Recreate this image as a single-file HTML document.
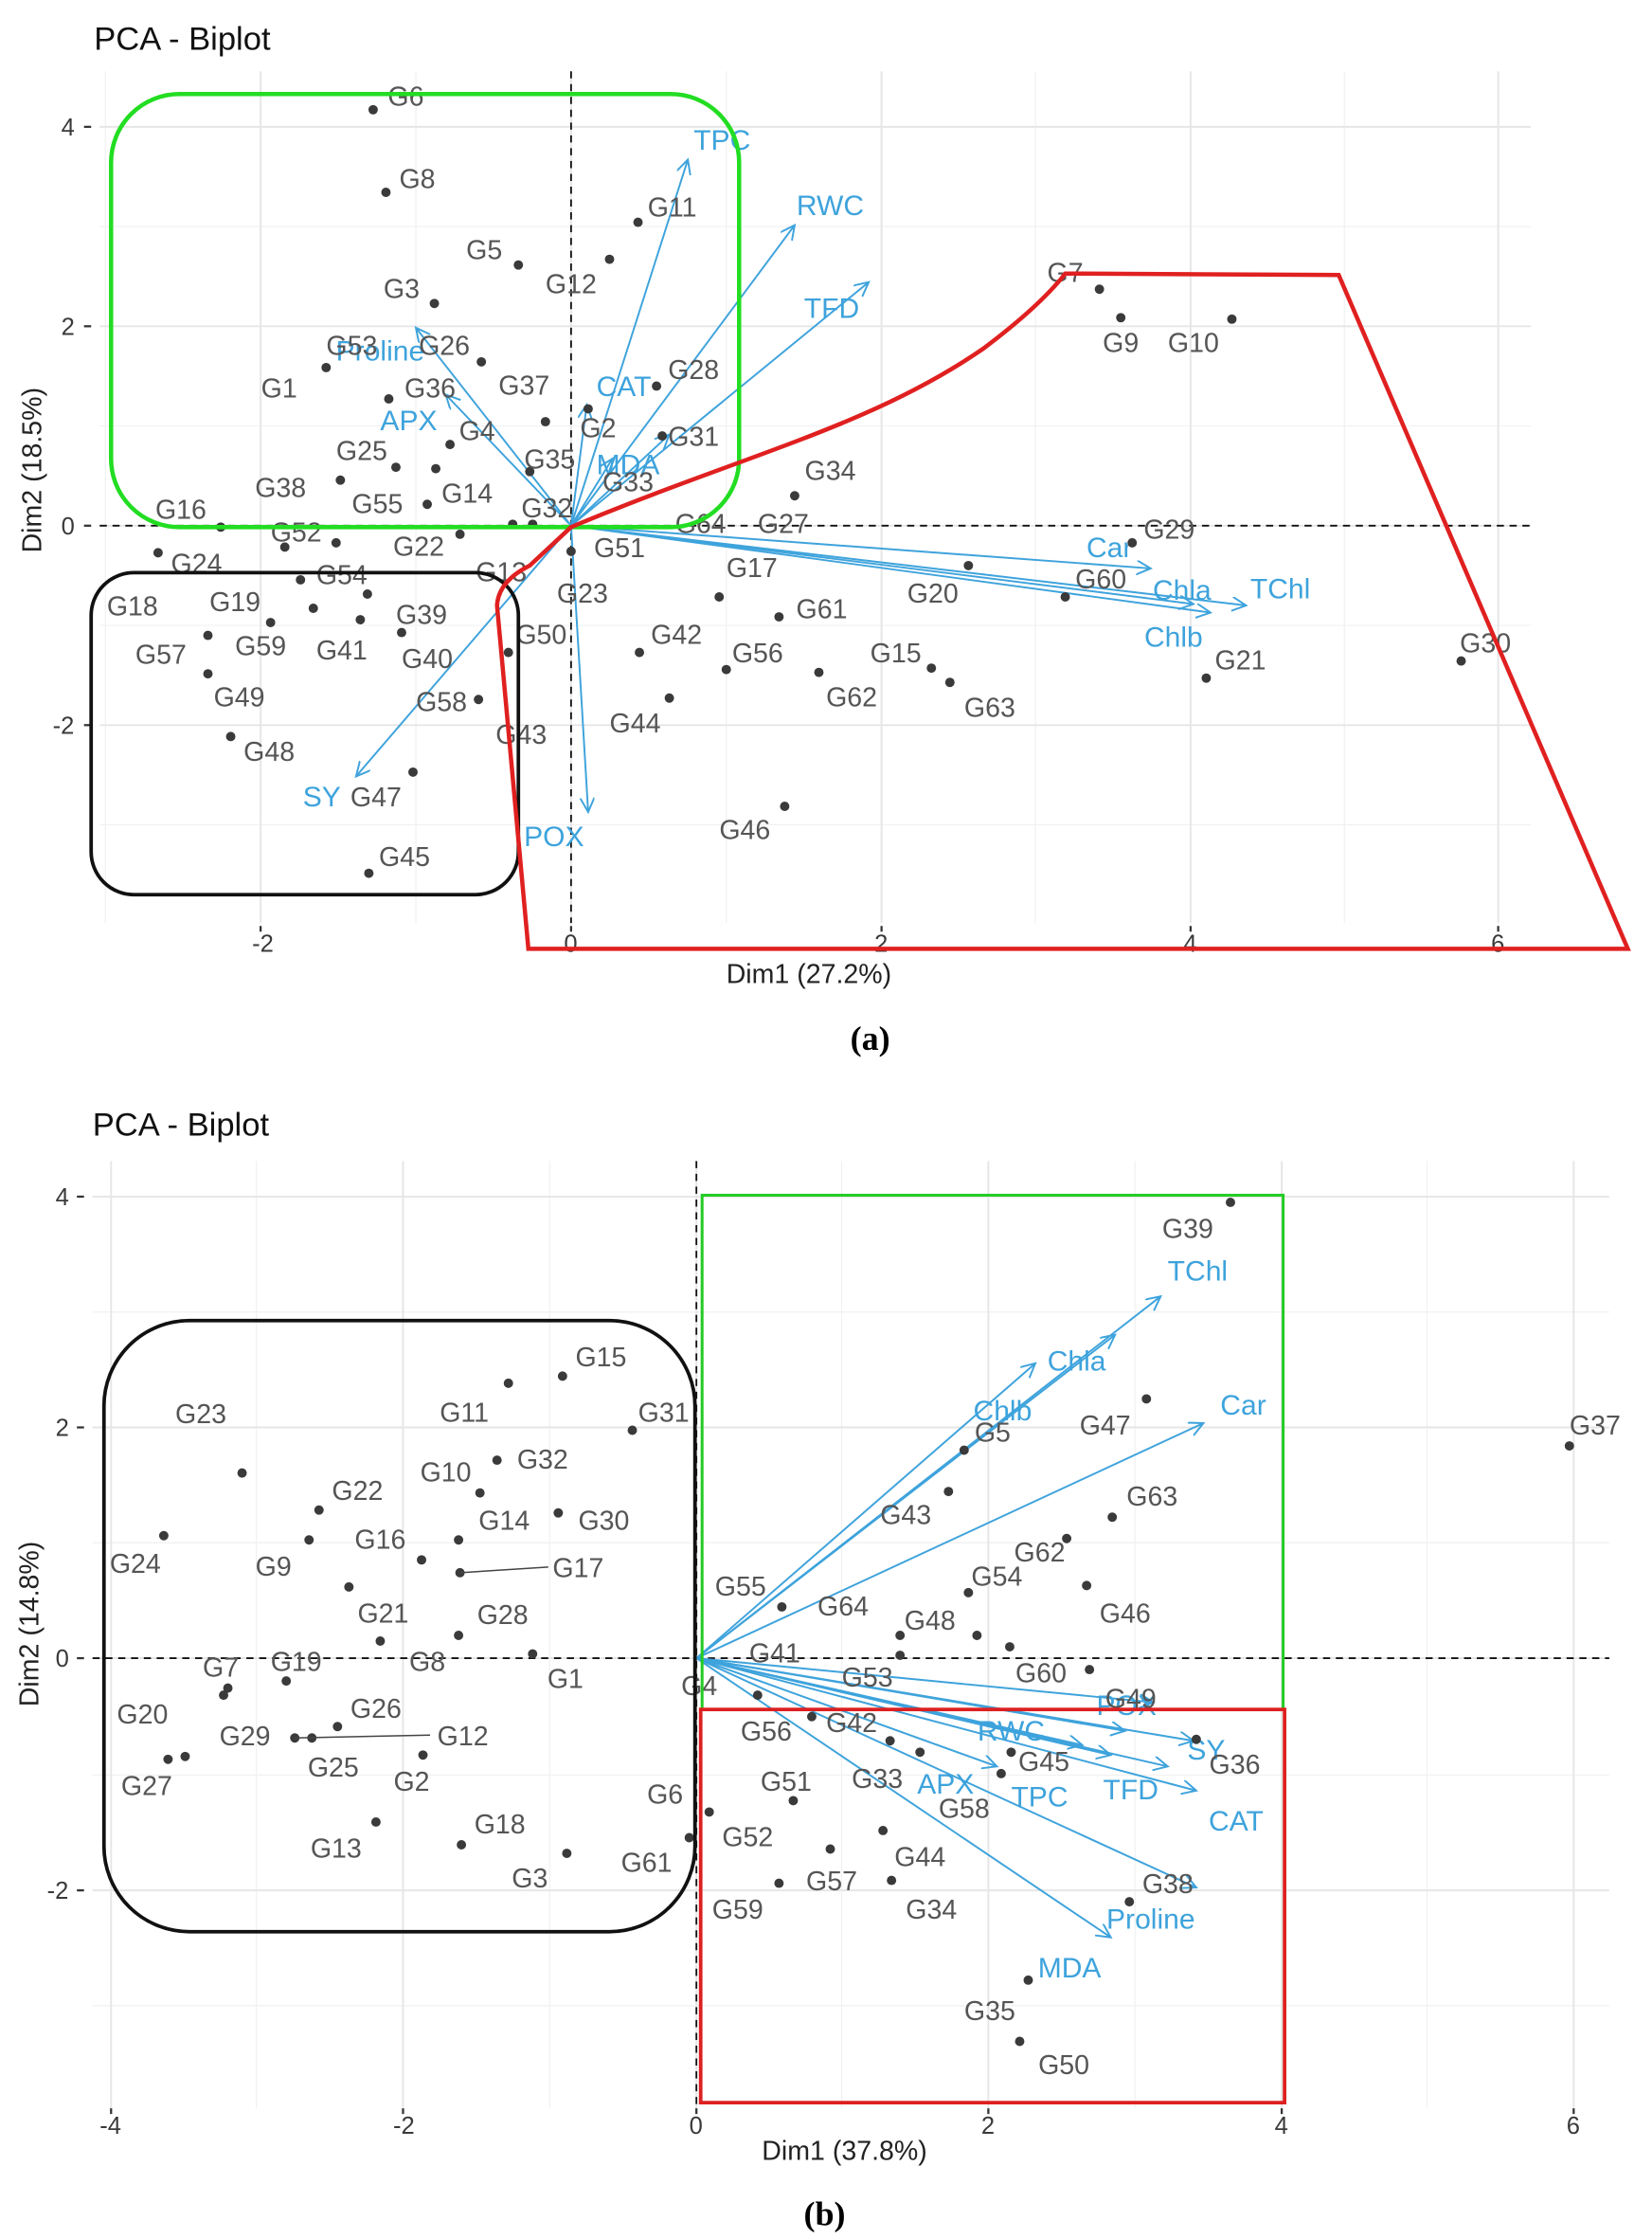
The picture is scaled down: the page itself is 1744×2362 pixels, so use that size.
<!DOCTYPE html>
<html><head><meta charset="utf-8"><style>
html,body{margin:0;padding:0;background:#fff}
svg{display:block}
.g{stroke:#e6e6e6;stroke-width:1.3}
.m{stroke:#f1f1f1;stroke-width:0.8}
.t{font-family:"Liberation Sans",sans-serif;font-size:17px;fill:#3a3a3a}
.k{stroke:#333;stroke-width:1.5}
.l{font-family:"Liberation Sans",sans-serif;font-size:19px;fill:#555;text-anchor:middle}
.v{font-family:"Liberation Sans",sans-serif;font-size:20px;fill:#3ea3dc;text-anchor:middle}
.a{stroke:#3ea3dc;stroke-width:1.3;fill:none;marker-end:url(#ah)}
circle{fill:#3a3a3a}
</style></head><body>
<svg width="1744" height="2362" viewBox="0 0 1160 1571" xmlns="http://www.w3.org/2000/svg">
<defs><marker id="ah" markerWidth="12" markerHeight="12" refX="10" refY="5" orient="auto" markerUnits="userSpaceOnUse"><path d="M0,0 L10,5 L0,10" fill="none" stroke="#3ea3dc" stroke-width="1.3"/></marker></defs>
<!-- ===== (a) ===== -->
<g>
<line class="m" x1="74" y1="50" x2="74" y2="648"/><line class="m" x1="292" y1="50" x2="292" y2="648"/><line class="m" x1="510" y1="50" x2="510" y2="648"/><line class="m" x1="727" y1="50" x2="727" y2="648"/><line class="m" x1="944" y1="50" x2="944" y2="648"/>
<line class="m" x1="70" y1="159" x2="1075" y2="159"/><line class="m" x1="70" y1="299" x2="1075" y2="299"/><line class="m" x1="70" y1="439" x2="1075" y2="439"/><line class="m" x1="70" y1="579" x2="1075" y2="579"/>
<line class="g" x1="183" y1="50" x2="183" y2="648"/><line class="g" x1="401" y1="50" x2="401" y2="648"/><line class="g" x1="619" y1="50" x2="619" y2="648"/><line class="g" x1="836" y1="50" x2="836" y2="648"/><line class="g" x1="1052" y1="50" x2="1052" y2="648"/>
<line class="g" x1="70" y1="89" x2="1075" y2="89"/><line class="g" x1="70" y1="229" x2="1075" y2="229"/><line class="g" x1="70" y1="369" x2="1075" y2="369"/><line class="g" x1="70" y1="509" x2="1075" y2="509"/>
<line x1="401" y1="50" x2="401" y2="648" stroke="#111" stroke-width="1.2" stroke-dasharray="5,4"/>
<line x1="70" y1="369" x2="1075" y2="369" stroke="#111" stroke-width="1.2" stroke-dasharray="5,4"/>
<line class="k" x1="59" y1="89" x2="64" y2="89"/><line class="k" x1="59" y1="229" x2="64" y2="229"/><line class="k" x1="59" y1="369" x2="64" y2="369"/><line class="k" x1="59" y1="509" x2="64" y2="509"/>
<text class="t" x="43" y="95">4</text><text class="t" x="43" y="235">2</text><text class="t" x="43" y="375">0</text><text class="t" x="37" y="515">-2</text>
<line class="k" x1="183" y1="650" x2="183" y2="654"/><line class="k" x1="401" y1="650" x2="401" y2="654"/><line class="k" x1="619" y1="650" x2="619" y2="654"/><line class="k" x1="836" y1="650" x2="836" y2="654"/><line class="k" x1="1052" y1="650" x2="1052" y2="654"/>
<text class="t" x="177" y="668">-2</text><text class="t" x="396" y="668">0</text><text class="t" x="614" y="668">2</text><text class="t" x="831" y="668">4</text><text class="t" x="1047" y="668">6</text>
<text x="66" y="35" font-family="Liberation Sans,sans-serif" font-size="23" fill="#111">PCA - Biplot</text>
<text x="568" y="690" font-family="Liberation Sans,sans-serif" font-size="19" fill="#222" text-anchor="middle">Dim1 (27.2%)</text>
<text transform="translate(29,330) rotate(-90)" font-family="Liberation Sans,sans-serif" font-size="19" fill="#222" text-anchor="middle">Dim2 (18.5%)</text>
<text x="611" y="737" font-family="Liberation Serif,serif" font-size="24" font-weight="bold" text-anchor="middle">(a)</text>
<line class="a" x1="401" y1="369" x2="483" y2="112"/><line class="a" x1="401" y1="369" x2="558" y2="158"/><line class="a" x1="401" y1="369" x2="610" y2="198"/>
<line class="a" x1="401" y1="369" x2="412" y2="284"/><line class="a" x1="401" y1="369" x2="430" y2="322"/><line class="a" x1="401" y1="369" x2="292" y2="230"/>
<line class="a" x1="401" y1="369" x2="313" y2="277"/><line class="a" x1="401" y1="369" x2="808" y2="399"/><line class="a" x1="401" y1="369" x2="838" y2="424"/>
<line class="a" x1="401" y1="369" x2="875" y2="425"/><line class="a" x1="401" y1="369" x2="850" y2="430"/><line class="a" x1="401" y1="369" x2="250" y2="545"/><line class="a" x1="401" y1="369" x2="413" y2="570"/>
<line class="a" x1="401" y1="369" x2="470" y2="305"/>
<g class="v"><text x="507" y="105">TPC</text><text x="583" y="151">RWC</text><text x="584" y="223">TFD</text><text x="438" y="278">CAT</text><text x="441" y="333">MDA</text><text x="267" y="253">Proline</text><text x="287" y="302">APX</text><text x="779" y="391">Car</text><text x="830" y="421">Chla</text><text x="899" y="420">TChl</text><text x="824" y="454">Chlb</text><text x="226" y="566">SY</text><text x="389" y="594">POX</text></g>
<g><circle cx="262" cy="77" r="3.3"/><circle cx="271" cy="135" r="3.3"/><circle cx="448" cy="156" r="3.3"/><circle cx="364" cy="186" r="3.3"/><circle cx="428" cy="182" r="3.3"/><circle cx="305" cy="213" r="3.3"/><circle cx="461" cy="271" r="3.3"/><circle cx="413" cy="287" r="3.3"/><circle cx="465" cy="306" r="3.3"/><circle cx="338" cy="254" r="3.3"/><circle cx="229" cy="258" r="3.3"/><circle cx="273" cy="280" r="3.3"/><circle cx="383" cy="296" r="3.3"/><circle cx="316" cy="312" r="3.3"/><circle cx="306" cy="329" r="3.3"/><circle cx="239" cy="337" r="3.3"/><circle cx="372" cy="331" r="3.3"/><circle cx="300" cy="354" r="3.3"/><circle cx="278" cy="328" r="3.3"/><circle cx="374" cy="368" r="3.3"/><circle cx="155" cy="370" r="3.3"/><circle cx="200" cy="384" r="3.3"/><circle cx="111" cy="388" r="3.3"/><circle cx="236" cy="381" r="3.3"/><circle cx="401" cy="387" r="3.3"/><circle cx="558" cy="348" r="3.3"/><circle cx="795" cy="381" r="3.3"/><circle cx="847" cy="476" r="3.3"/><circle cx="680" cy="397" r="3.3"/><circle cx="505" cy="419" r="3.3"/><circle cx="547" cy="433" r="3.3"/><circle cx="190" cy="437" r="3.3"/><circle cx="211" cy="407" r="3.3"/><circle cx="258" cy="417" r="3.3"/><circle cx="146" cy="446" r="3.3"/><circle cx="220" cy="427" r="3.3"/><circle cx="253" cy="435" r="3.3"/><circle cx="282" cy="444" r="3.3"/><circle cx="357" cy="458" r="3.3"/><circle cx="449" cy="458" r="3.3"/><circle cx="510" cy="470" r="3.3"/><circle cx="654" cy="469" r="3.3"/><circle cx="575" cy="472" r="3.3"/><circle cx="667" cy="479" r="3.3"/><circle cx="146" cy="473" r="3.3"/><circle cx="336" cy="491" r="3.3"/><circle cx="470" cy="490" r="3.3"/><circle cx="162" cy="517" r="3.3"/><circle cx="290" cy="542" r="3.3"/><circle cx="259" cy="613" r="3.3"/><circle cx="551" cy="566" r="3.3"/><circle cx="772" cy="203" r="3.3"/><circle cx="787" cy="223" r="3.3"/><circle cx="865" cy="224" r="3.3"/><circle cx="1026" cy="464" r="3.3"/><circle cx="748" cy="419" r="3.3"/><circle cx="323" cy="375" r="3.3"/><circle cx="360" cy="368" r="3.3"/></g>
<g class="l"><text x="285" y="74">G6</text><text x="293" y="132">G8</text><text x="472" y="152">G11</text><text x="340" y="182">G5</text><text x="401" y="206">G12</text><text x="282" y="209">G3</text><text x="487" y="266">G28</text><text x="420" y="307">G2</text><text x="487" y="313">G31</text><text x="312" y="249">G26</text><text x="247" y="249">G53</text><text x="196" y="279">G1</text><text x="302" y="279">G36</text><text x="368" y="277">G37</text><text x="335" y="309">G4</text><text x="254" y="323">G25</text><text x="197" y="349">G38</text><text x="386" y="329">G35</text><text x="441" y="345">G33</text><text x="328" y="353">G14</text><text x="265" y="360">G55</text><text x="384" y="363">G32</text><text x="127" y="364">G16</text><text x="208" y="380">G52</text><text x="138" y="402">G24</text><text x="294" y="390">G22</text><text x="492" y="374">G64</text><text x="550" y="374">G27</text><text x="435" y="391">G51</text><text x="583" y="337">G34</text><text x="821" y="378">G29</text><text x="773" y="413">G60</text><text x="871" y="470">G21</text><text x="655" y="423">G20</text><text x="528" y="405">G17</text><text x="577" y="434">G61</text><text x="93" y="432">G18</text><text x="165" y="429">G19</text><text x="240" y="410">G54</text><text x="296" y="438">G39</text><text x="352" y="408">G13</text><text x="409" y="423">G23</text><text x="113" y="466">G57</text><text x="183" y="460">G59</text><text x="240" y="463">G41</text><text x="300" y="469">G40</text><text x="380" y="452">G50</text><text x="475" y="452">G42</text><text x="532" y="465">G56</text><text x="629" y="465">G15</text><text x="598" y="496">G62</text><text x="695" y="503">G63</text><text x="168" y="496">G49</text><text x="310" y="499">G58</text><text x="366" y="522">G43</text><text x="446" y="514">G44</text><text x="189" y="534">G48</text><text x="264" y="566">G47</text><text x="284" y="608">G45</text><text x="523" y="589">G46</text><text x="748" y="198">G7</text><text x="787" y="247">G9</text><text x="838" y="247">G10</text><text x="1043" y="458">G30</text></g>
<rect x="78" y="66" width="441" height="304" rx="48" fill="none" stroke="#22dd22" stroke-width="3"/>
<rect x="64" y="402" width="300" height="226" rx="30" fill="none" stroke="#111" stroke-width="2.5"/>
<path d="M371,666 L349,425 Q350,408 372,397 L401,370 C520,320 610,300 690,245 Q730,215 748,192 L940,193 L1143,666 Z" fill="none" stroke="#e02020" stroke-width="3"/>
</g>
<!-- ===== (b) ===== -->
<g>
<line class="m" x1="180" y1="815" x2="180" y2="1480"/><line class="m" x1="386" y1="815" x2="386" y2="1480"/><line class="m" x1="591" y1="815" x2="591" y2="1480"/><line class="m" x1="797" y1="815" x2="797" y2="1480"/><line class="m" x1="1002" y1="815" x2="1002" y2="1480"/>
<line class="m" x1="65" y1="921" x2="1130" y2="921"/><line class="m" x1="65" y1="1083" x2="1130" y2="1083"/><line class="m" x1="65" y1="1246" x2="1130" y2="1246"/><line class="m" x1="65" y1="1408" x2="1130" y2="1408"/>
<line class="g" x1="78" y1="815" x2="78" y2="1480"/><line class="g" x1="283" y1="815" x2="283" y2="1480"/><line class="g" x1="489" y1="815" x2="489" y2="1480"/><line class="g" x1="694" y1="815" x2="694" y2="1480"/><line class="g" x1="900" y1="815" x2="900" y2="1480"/><line class="g" x1="1105" y1="815" x2="1105" y2="1480"/>
<line class="g" x1="65" y1="840" x2="1130" y2="840"/><line class="g" x1="65" y1="1002" x2="1130" y2="1002"/><line class="g" x1="65" y1="1164" x2="1130" y2="1164"/><line class="g" x1="65" y1="1327" x2="1130" y2="1327"/>
<line x1="489" y1="815" x2="489" y2="1480" stroke="#111" stroke-width="1.2" stroke-dasharray="5,4"/>
<line x1="65" y1="1164" x2="1130" y2="1164" stroke="#111" stroke-width="1.2" stroke-dasharray="5,4"/>
<line class="k" x1="54" y1="840" x2="59" y2="840"/><line class="k" x1="54" y1="1002" x2="59" y2="1002"/><line class="k" x1="54" y1="1164" x2="59" y2="1164"/><line class="k" x1="54" y1="1327" x2="59" y2="1327"/>
<text class="t" x="39" y="846">4</text><text class="t" x="39" y="1008">2</text><text class="t" x="39" y="1170">0</text><text class="t" x="33" y="1333">-2</text>
<line class="k" x1="78" y1="1480" x2="78" y2="1484"/><line class="k" x1="283" y1="1480" x2="283" y2="1484"/><line class="k" x1="489" y1="1480" x2="489" y2="1484"/><line class="k" x1="694" y1="1480" x2="694" y2="1484"/><line class="k" x1="900" y1="1480" x2="900" y2="1484"/><line class="k" x1="1105" y1="1480" x2="1105" y2="1484"/>
<text class="t" x="70" y="1498">-4</text><text class="t" x="276" y="1498">-2</text><text class="t" x="484" y="1498">0</text><text class="t" x="689" y="1498">2</text><text class="t" x="895" y="1498">4</text><text class="t" x="1100" y="1498">6</text>
<text x="65" y="797" font-family="Liberation Sans,sans-serif" font-size="23" fill="#111">PCA - Biplot</text>
<text x="593" y="1516" font-family="Liberation Sans,sans-serif" font-size="19" fill="#222" text-anchor="middle">Dim1 (37.8%)</text>
<text transform="translate(27,1140) rotate(-90)" font-family="Liberation Sans,sans-serif" font-size="19" fill="#222" text-anchor="middle">Dim2 (14.8%)</text>
<text x="579" y="1562" font-family="Liberation Serif,serif" font-size="24" font-weight="bold" text-anchor="middle">(b)</text>
<line class="a" x1="489" y1="1164" x2="815" y2="910"/><line class="a" x1="489" y1="1164" x2="783" y2="937"/><line class="a" x1="489" y1="1164" x2="845" y2="999"/><line class="a" x1="489" y1="1164" x2="727" y2="957"/>
<line class="a" x1="489" y1="1164" x2="810" y2="1195"/><line class="a" x1="489" y1="1164" x2="838" y2="1222"/><line class="a" x1="489" y1="1164" x2="840" y2="1257"/><line class="a" x1="489" y1="1164" x2="820" y2="1240"/>
<line class="a" x1="489" y1="1164" x2="780" y2="1232"/><line class="a" x1="489" y1="1164" x2="760" y2="1225"/><line class="a" x1="489" y1="1164" x2="840" y2="1325"/><line class="a" x1="489" y1="1164" x2="780" y2="1360"/>
<line class="a" x1="489" y1="1164" x2="790" y2="1215"/><line class="a" x1="489" y1="1164" x2="700" y2="1240"/>
<g class="v"><text x="841" y="899">TChl</text><text x="756" y="962">Chla</text><text x="873" y="993">Car</text><text x="704" y="997">Chlb</text><text x="791" y="1204">POX</text><text x="847" y="1235">SY</text><text x="664" y="1259">APX</text><text x="730" y="1268">TPC</text><text x="794" y="1263">TFD</text><text x="868" y="1285">CAT</text><text x="808" y="1354">Proline</text><text x="751" y="1388">MDA</text><text x="710" y="1222">RWC</text></g>
<g><circle cx="864" cy="844" r="3.3"/><circle cx="677" cy="1018" r="3.3"/><circle cx="805" cy="982" r="3.3"/><circle cx="1102" cy="1015" r="3.3"/><circle cx="781" cy="1065" r="3.3"/><circle cx="666" cy="1047" r="3.3"/><circle cx="749" cy="1080" r="3.3"/><circle cx="680" cy="1118" r="3.3"/><circle cx="763" cy="1113" r="3.3"/><circle cx="549" cy="1128" r="3.3"/><circle cx="632" cy="1148" r="3.3"/><circle cx="686" cy="1148" r="3.3"/><circle cx="709" cy="1156" r="3.3"/><circle cx="765" cy="1172" r="3.3"/><circle cx="840" cy="1221" r="3.3"/><circle cx="532" cy="1190" r="3.3"/><circle cx="570" cy="1205" r="3.3"/><circle cx="625" cy="1222" r="3.3"/><circle cx="646" cy="1230" r="3.3"/><circle cx="710" cy="1230" r="3.3"/><circle cx="557" cy="1264" r="3.3"/><circle cx="703" cy="1245" r="3.3"/><circle cx="498" cy="1272" r="3.3"/><circle cx="484" cy="1290" r="3.3"/><circle cx="583" cy="1298" r="3.3"/><circle cx="620" cy="1285" r="3.3"/><circle cx="547" cy="1322" r="3.3"/><circle cx="626" cy="1320" r="3.3"/><circle cx="793" cy="1335" r="3.3"/><circle cx="722" cy="1390" r="3.3"/><circle cx="716" cy="1433" r="3.3"/><circle cx="632" cy="1162" r="3.3"/>
<circle cx="395" cy="966" r="3.3"/><circle cx="357" cy="971" r="3.3"/><circle cx="444" cy="1004" r="3.3"/><circle cx="170" cy="1034" r="3.3"/><circle cx="349" cy="1025" r="3.3"/><circle cx="224" cy="1060" r="3.3"/><circle cx="337" cy="1048" r="3.3"/><circle cx="392" cy="1062" r="3.3"/><circle cx="322" cy="1081" r="3.3"/><circle cx="115" cy="1078" r="3.3"/><circle cx="217" cy="1081" r="3.3"/><circle cx="296" cy="1095" r="3.3"/><circle cx="323" cy="1104" r="3.3"/><circle cx="245" cy="1114" r="3.3"/><circle cx="322" cy="1148" r="3.3"/><circle cx="267" cy="1152" r="3.3"/><circle cx="374" cy="1161" r="3.3"/><circle cx="160" cy="1185" r="3.3"/><circle cx="201" cy="1180" r="3.3"/><circle cx="157" cy="1190" r="3.3"/><circle cx="237" cy="1212" r="3.3"/><circle cx="130" cy="1233" r="3.3"/><circle cx="207" cy="1220" r="3.3"/><circle cx="219" cy="1220" r="3.3"/><circle cx="297" cy="1232" r="3.3"/><circle cx="118" cy="1235" r="3.3"/><circle cx="264" cy="1279" r="3.3"/><circle cx="324" cy="1295" r="3.3"/><circle cx="398" cy="1301" r="3.3"/></g>
<g class="l"><text x="834" y="869">G39</text><text x="697" y="1012">G5</text><text x="776" y="1007">G47</text><text x="1120" y="1007">G37</text><text x="809" y="1057">G63</text><text x="636" y="1070">G43</text><text x="730" y="1096">G62</text><text x="700" y="1113">G54</text><text x="790" y="1139">G46</text><text x="520" y="1120">G55</text><text x="592" y="1134">G64</text><text x="653" y="1144">G48</text><text x="544" y="1167">G41</text><text x="609" y="1184">G53</text><text x="731" y="1181">G60</text><text x="491" y="1190">G4</text><text x="794" y="1199">G49</text><text x="867" y="1245">G36</text><text x="538" y="1222">G56</text><text x="598" y="1216">G42</text><text x="733" y="1243">G45</text><text x="552" y="1257">G51</text><text x="616" y="1255">G33</text><text x="677" y="1276">G58</text><text x="467" y="1266">G6</text><text x="525" y="1296">G52</text><text x="646" y="1310">G44</text><text x="454" y="1314">G61</text><text x="584" y="1327">G57</text><text x="654" y="1347">G34</text><text x="518" y="1347">G59</text><text x="820" y="1329">G38</text><text x="695" y="1418">G35</text><text x="747" y="1456">G50</text>
<text x="422" y="959">G15</text><text x="326" y="998">G11</text><text x="466" y="998">G31</text><text x="141" y="999">G23</text><text x="381" y="1031">G32</text><text x="251" y="1053">G22</text><text x="313" y="1040">G10</text><text x="424" y="1074">G30</text><text x="354" y="1074">G14</text><text x="95" y="1104">G24</text><text x="192" y="1106">G9</text><text x="267" y="1087">G16</text><text x="406" y="1107">G17</text><text x="269" y="1139">G21</text><text x="353" y="1140">G28</text><text x="300" y="1173">G8</text><text x="397" y="1185">G1</text><text x="155" y="1177">G7</text><text x="208" y="1173">G19</text><text x="100" y="1210">G20</text><text x="264" y="1206">G26</text><text x="172" y="1225">G29</text><text x="325" y="1225">G12</text><text x="234" y="1247">G25</text><text x="289" y="1257">G2</text><text x="103" y="1260">G27</text><text x="236" y="1304">G13</text><text x="351" y="1287">G18</text><text x="372" y="1325">G3</text></g>
<line x1="323" y1="1104" x2="385" y2="1100" stroke="#444" stroke-width="1"/>
<line x1="207" y1="1220" x2="302" y2="1218" stroke="#444" stroke-width="1"/>
<rect x="493" y="839" width="408" height="361" fill="none" stroke="#22cc22" stroke-width="2"/>
<rect x="492" y="1200" width="410" height="276" fill="none" stroke="#dd2020" stroke-width="2.5"/>
<rect x="73" y="927" width="415" height="429" rx="60" fill="none" stroke="#111" stroke-width="2.5"/>
</g>
</svg>
</body></html>
